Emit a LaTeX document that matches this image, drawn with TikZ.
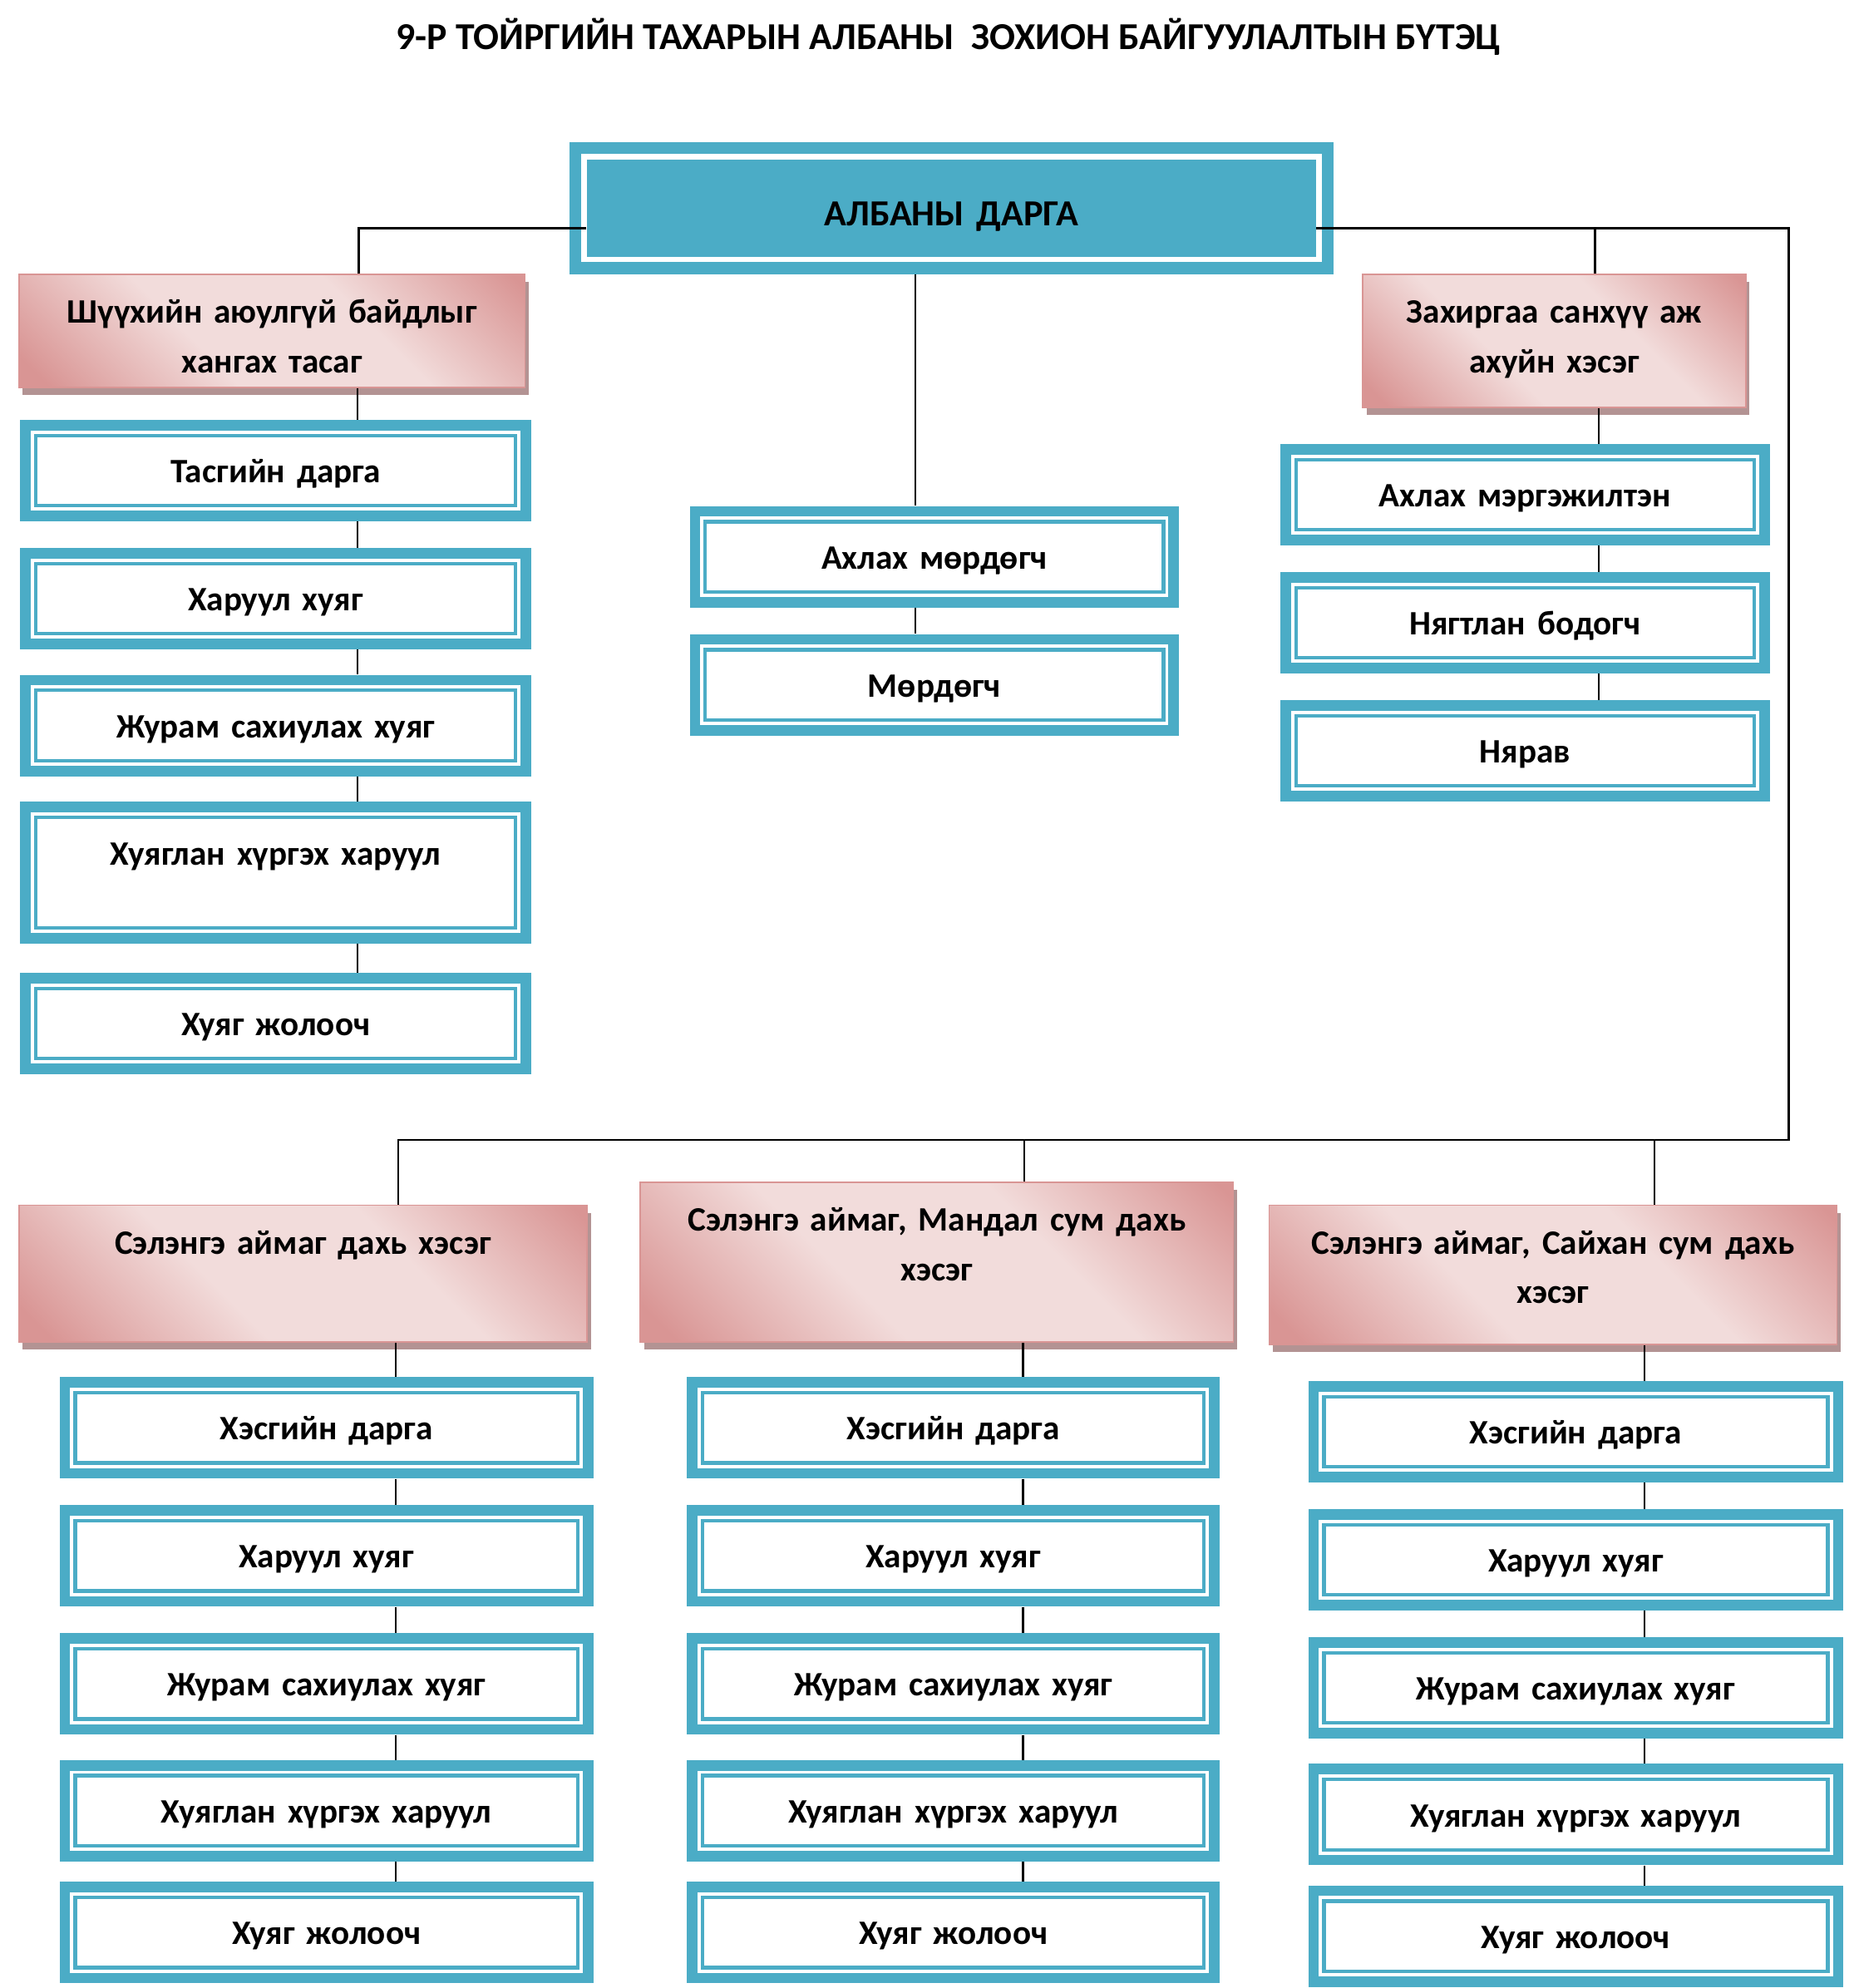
\documentclass[tikz,border=0pt]{standalone}
\usepackage{fontspec}
\setmainfont{Carlito}
\usetikzlibrary{calc,shadows}
\definecolor{boxteal}{HTML}{4BACC6}
\definecolor{pinkdark}{HTML}{D99594}
\definecolor{pinklight}{HTML}{F2DCDB}
\definecolor{pinkshade}{HTML}{B39393}
\pgfdeclareverticalshading{pinkband}{100bp}{color(0bp)=(pinkdark); color(18bp)=(pinkdark); color(40bp)=(pinklight); color(62bp)=(pinklight); color(84bp)=(pinkdark); color(100bp)=(pinkdark)}

\begin{document}
\begin{tikzpicture}[x=1pt,y=-1pt,
  every node/.style={font=\fontsize{27}{39}\selectfont\bfseries, inner sep=0pt, anchor=north, align=center},
  head/.style={fill=boxteal, text height=65.7pt, text depth=38.3pt, font=\fontsize{29}{39}\selectfont\bfseries,
    path picture={\draw[white,line width=4.4pt] ($(path picture bounding box.north west)+(11.6pt,-11.6pt)$) rectangle ($(path picture bounding box.south east)+(-11.6pt,11.6pt)$);}},
  role/.style={fill=boxteal, text height=49.6pt, text depth=30.4pt,
    path picture={\fill[white] ($(path picture bounding box.north west)+(8.3pt,-8.3pt)$) rectangle ($(path picture bounding box.south east)+(-8.3pt,8.3pt)$);
      \draw[boxteal,line width=2.8pt] ($(path picture bounding box.north west)+(12.3pt,-12.3pt)$) rectangle ($(path picture bounding box.south east)+(-12.3pt,12.3pt)$);}},
  unit/.style={shading=pinkband, shading angle=-45, draw=pinkdark, line width=1pt, text height=38.5pt,
    drop shadow={shadow xshift=3pt, shadow yshift=-6pt, fill=pinkshade, opacity=1}},
  wire/.style={line width=1.6pt}]
\useasboundingbox (0,0) rectangle (1462,1568);
% title
\node[anchor=base, font=\fontsize{30}{36}\selectfont\bfseries] (title) at (748,39) {9-Р ТОЙРГИЙН ТАХАРЫН АЛБАНЫ\ \ ЗОХИОН БАЙГУУЛАЛТЫН БҮТЭЦ};
% head
\node[head, text width=603pt] (boss) at (750.5,112) {АЛБАНЫ ДАРГА};
% left department
\node[unit, text width=399pt, text depth=50.5pt] (secA) at (214.5,216) {Шүүхийн аюулгүй байдлыг\\хангах тасаг};
\node[role, text width=403pt] (a1) at (217.5,331) {Тасгийн дарга};
\node[role, text width=403pt] (a2) at (217.5,432) {Харуул хуяг};
\node[role, text width=403pt] (a3) at (217.5,532) {Журам сахиулах хуяг};
\node[role, text width=403pt, text height=50pt, text depth=62pt] (a4) at (217.5,632) {Хуяглан хүргэх харуул};
\node[role, text width=403pt] (a5) at (217.5,767) {Хуяг жолооч};
% investigators
\node[role, text width=386pt] (b1) at (737,399) {Ахлах мөрдөгч};
\node[role, text width=386pt] (b2) at (737,500) {Мөрдөгч};
% administration
\node[unit, text width=302pt, text depth=66.5pt] (secB) at (1226,216) {Захиргаа санхүү аж\\ахуйн хэсэг};
\node[role, text width=386pt] (c1) at (1203,350) {Ахлах мэргэжилтэн};
\node[role, text width=386pt] (c2) at (1203,451) {Нягтлан бодогч};
\node[role, text width=386pt] (c3) at (1203,552) {Нярав};
% local units
\node[unit, text width=448pt, text depth=69.5pt] (unitA) at (239,950) {Сэлэнгэ аймаг дахь хэсэг};
\node[unit, text width=468pt, text depth=87.5pt] (unitB) at (739,932) {Сэлэнгэ аймаг, Мандал сум дахь\\хэсэг};
\node[unit, text width=448pt, text depth=71.5pt] (unitC) at (1225,950) {Сэлэнгэ аймаг, Сайхан сум дахь\\хэсэг};
\node[role, text width=421pt] (d1) at (257.5,1086) {Хэсгийн дарга};
\node[role, text width=421pt] (d2) at (257.5,1187) {Харуул хуяг};
\node[role, text width=421pt] (d3) at (257.5,1288) {Журам сахиулах хуяг};
\node[role, text width=421pt] (d4) at (257.5,1388) {Хуяглан хүргэх харуул};
\node[role, text width=421pt] (d5) at (257.5,1484) {Хуяг жолооч};
\node[role, text width=420pt] (e1) at (752,1086) {Хэсгийн дарга};
\node[role, text width=420pt] (e2) at (752,1187) {Харуул хуяг};
\node[role, text width=420pt] (e3) at (752,1288) {Журам сахиулах хуяг};
\node[role, text width=420pt] (e4) at (752,1388) {Хуяглан хүргэх харуул};
\node[role, text width=420pt] (e5) at (752,1484) {Хуяг жолооч};
\node[role, text width=422pt] (f1) at (1243,1089) {Хэсгийн дарга};
\node[role, text width=422pt] (f2) at (1243,1190) {Харуул хуяг};
\node[role, text width=422pt] (f3) at (1243,1291) {Журам сахиулах хуяг};
\node[role, text width=422pt] (f4) at (1243,1391) {Хуяглан хүргэх харуул};
\node[role, text width=422pt] (f5) at (1243,1487) {Хуяг жолооч};
% lines
\coordinate (jL) at (283,180);
\coordinate (jM) at (1258,180);
\coordinate (jR) at (1411,180);
\coordinate (busA) at (314,899);
\coordinate (busB) at (808,899);
\coordinate (busC) at (1305,899);
\coordinate (colA) at (282,0);
\coordinate (colB) at (722,0);
\coordinate (colC) at (1261,0);
\coordinate (colD) at (312,0);
\coordinate (colE) at (807,0);
\coordinate (colF) at (1297,0);
\coordinate (bossL) at ($(boss.west)+(13.8,0)$);
\coordinate (bossR) at ($(boss.east)+(-13.8,0)$);
\draw[wire] (bossL |- jL) -| (secA.north -| jL);
\draw[wire] (bossR |- jR) -- (jR) |- (busA) -- (unitA.north -| busA);
\draw[wire] (jM) -- (secB.north -| jM);
\draw[wire] (busB) -- (unitB.north -| busB);
\draw[wire] (busC) -- (unitC.north -| busC);
\draw[wire] (boss.south -| colB) -- (b1.north -| colB);
\draw[wire] (b1.south -| colB) -- (b2.north -| colB);
\draw[wire] (secA.south -| colA) -- (a1.north -| colA);
\draw[wire] (a1.south -| colA) -- (a2.north -| colA);
\draw[wire] (a2.south -| colA) -- (a3.north -| colA);
\draw[wire] (a3.south -| colA) -- (a4.north -| colA);
\draw[wire] (a4.south -| colA) -- (a5.north -| colA);
\draw[wire] (secB.south -| colC) -- (c1.north -| colC);
\draw[wire] (c1.south -| colC) -- (c2.north -| colC);
\draw[wire] (c2.south -| colC) -- (c3.north -| colC);
\draw[wire] (unitA.south -| colD) -- (d1.north -| colD);
\draw[wire] (d1.south -| colD) -- (d2.north -| colD);
\draw[wire] (d2.south -| colD) -- (d3.north -| colD);
\draw[wire] (d3.south -| colD) -- (d4.north -| colD);
\draw[wire] (d4.south -| colD) -- (d5.north -| colD);
\draw[wire] (unitB.south -| colE) -- (e1.north -| colE);
\draw[wire] (e1.south -| colE) -- (e2.north -| colE);
\draw[wire] (e2.south -| colE) -- (e3.north -| colE);
\draw[wire] (e3.south -| colE) -- (e4.north -| colE);
\draw[wire] (e4.south -| colE) -- (e5.north -| colE);
\draw[wire] (unitC.south -| colF) -- (f1.north -| colF);
\draw[wire] (f1.south -| colF) -- (f2.north -| colF);
\draw[wire] (f2.south -| colF) -- (f3.north -| colF);
\draw[wire] (f3.south -| colF) -- (f4.north -| colF);
\draw[wire] (f4.south -| colF) -- (f5.north -| colF);
\end{tikzpicture}
\end{document}
